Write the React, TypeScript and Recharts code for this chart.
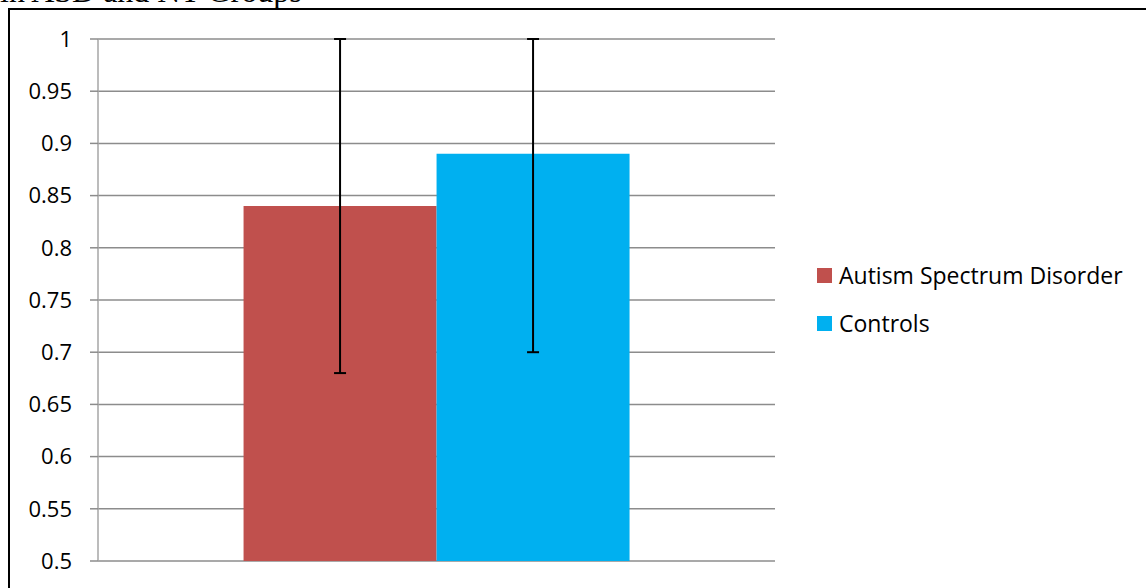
import React from "react";
import { BarChart, Bar, XAxis, YAxis, CartesianGrid, ErrorBar } from "recharts";

const categories = [""];
const seriesNames = ["Autism Spectrum Disorder", "Controls"];
const seriesColors = ["#C0504D", "#00B0F0"];
const asdValues = [0.84];
const controlValues = [0.89];
const asdErrors = [[0.16, 0.16]];
const controlErrors = [[0.19, 0.11]];
const yTicks = [0.5, 0.55, 0.6, 0.65, 0.7, 0.75, 0.8, 0.85, 0.9, 0.95, 1];
const titleText = "in ASD and NT Groups";

const data = categories.map((c, i) => ({
  name: c,
  asd: asdValues[i],
  ctrl: controlValues[i],
  asdErr: asdErrors[i],
  ctrlErr: controlErrors[i],
}));

const FONT = "'Open Sans', sans-serif";

export default function App() {
  return (
    <div
      style={{
        position: "absolute",
        left: 0,
        top: 0,
        width: 1146,
        height: 588,
        overflow: "hidden",
        background: "#fff",
      }}
    >
      <div
        style={{
          position: "absolute",
          left: 8,
          top: 8,
          width: 1300,
          height: 800,
          border: "2px solid #000",
          boxSizing: "border-box",
        }}
      />
      <div
        style={{
          position: "absolute",
          left: 0,
          top: -25,
          fontFamily: "'Liberation Serif', 'Times New Roman', serif",
          fontSize: 32,
          lineHeight: "32px",
          whiteSpace: "nowrap",
          color: "#000",
        }}
      >
        {titleText}
      </div>
      <div style={{ position: "absolute", left: 0, top: 0 }}>
        <BarChart
          width={1146}
          height={588}
          data={data}
          margin={{ top: 39, right: 371, bottom: 27, left: 0 }}
          barCategoryGap="21.5%"
          barGap={0}
        >
          <CartesianGrid vertical={false} stroke="#8c8c8c" strokeWidth={1.5} />
          <XAxis dataKey="name" hide />
          <YAxis
            width={98}
            domain={[0.5, 1]}
            ticks={yTicks}
            interval={0}
            allowDataOverflow
            tickSize={8}
            tickMargin={18}
            axisLine={{ stroke: "#a6a6a6", strokeWidth: 1.5 }}
            tickLine={{ stroke: "#8c8c8c", strokeWidth: 1.5 }}
            tick={{ fill: "#000", fontSize: 22, fontFamily: FONT }}
          />
          <Bar dataKey="asd" name={seriesNames[0]} fill={seriesColors[0]} isAnimationActive={false}>
            <ErrorBar dataKey="asdErr" width={6} stroke="#000" strokeWidth={2} direction="y" />
          </Bar>
          <Bar dataKey="ctrl" name={seriesNames[1]} fill={seriesColors[1]} isAnimationActive={false}>
            <ErrorBar dataKey="ctrlErr" width={6} stroke="#000" strokeWidth={2} direction="y" />
          </Bar>
        </BarChart>
      </div>
      {seriesNames.map((n, i) => (
        <div
          key={n}
          style={{
            position: "absolute",
            left: 817,
            top: 260 + i * 48,
            height: 30,
            display: "flex",
            alignItems: "center",
            fontFamily: FONT,
            fontSize: 23,
            color: "#000",
            whiteSpace: "nowrap",
          }}
        >
          <span
            style={{
              display: "inline-block",
              width: 15,
              height: 15,
              background: seriesColors[i],
              marginRight: 7,
            }}
          />
          <span>{n}</span>
        </div>
      ))}
    </div>
  );
}
